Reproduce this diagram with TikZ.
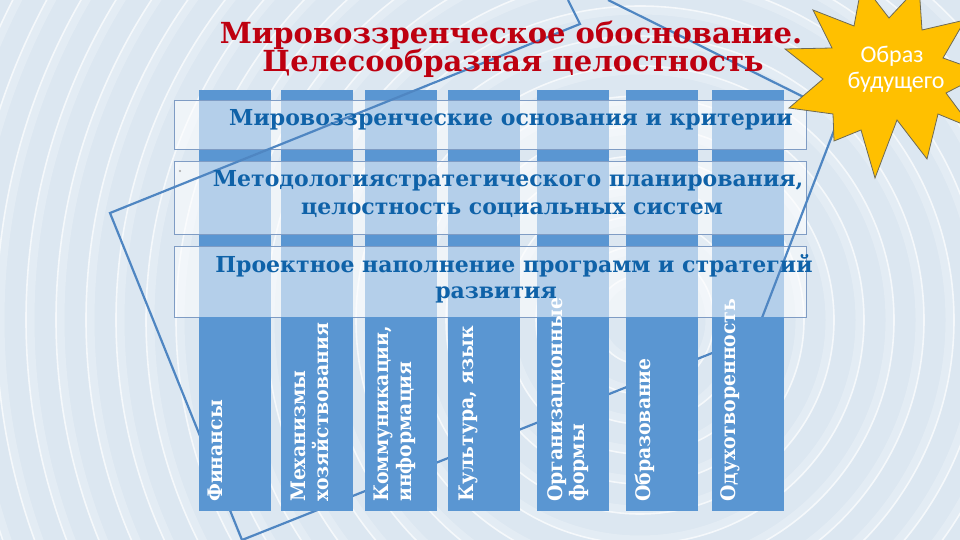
\documentclass[tikz,border=0pt]{standalone}
\usepackage{fontspec}
\setmainfont{DejaVu Serif}
\newfontfamily\colfont{DejaVu Serif}[FakeStretch=0.94]
\newfontfamily\starfont{Carlito}
\definecolor{bgc}{HTML}{DCE7F1}
\definecolor{colblue}{HTML}{5A96D2}
\definecolor{bandline}{HTML}{7F9CC4}
\definecolor{bandtxt}{HTML}{0F62A8}
\definecolor{titlered}{HTML}{BE0010}
\definecolor{lineblue}{HTML}{4F86C2}
\definecolor{starfill}{HTML}{FFC000}
\definecolor{starline}{HTML}{6E6A55}
\begin{document}
\begin{tikzpicture}[x=1pt,y=-1pt,
  colbox/.style={fill=colblue, draw=none, minimum width=72pt, inner sep=0pt, anchor=north west},
  bandbox/.style={fill=white, fill opacity=0.55, draw=bandline, line width=0.8pt, inner sep=0pt, anchor=north west, minimum width=632pt},
  bandtext/.style={text=bandtxt, font=\fontsize{22}{22}\selectfont\bfseries, inner sep=0pt, anchor=base},
  coltext/.style={text=white, font=\colfont\fontsize{20}{20}\selectfont\bfseries, rotate=90, inner sep=0pt, anchor=base west},
  titletext/.style={text=titlered, font=\fontsize{29}{29}\selectfont\bfseries, inner sep=0pt, anchor=base},
  frameline/.style={draw=lineblue, line width=2.2pt, line join=miter},
  ringsoft/.style={draw=white, line width=9pt, opacity=0.22},
  ringthin/.style={draw=white, line width=1.6pt, opacity=0.65},
  startext/.style={text=white, font=\starfont\fontsize{24}{24}\selectfont, inner sep=0pt, anchor=base},
  starshape/.style={fill=starfill, draw=starline, line width=0.8pt, line join=miter}
]
\useasboundingbox (0,0) rectangle (960,540);
\fill[bgc] (0,0) rectangle (960,540);
\begin{scope}
  \clip (0,0) rectangle (960,540);
  \foreach \r in {40,70,...,820} {
    \draw[ringsoft] (640,320) circle (\r);
    \draw[ringthin] (640,320) circle (\r+4);
  }
\end{scope}

% columns (full height)
\foreach \n/\x in {1/199,2/281,3/365,4/448,5/537,6/626,7/712} {
  \node[colbox, minimum height=421pt] (c\n) at (\x,90) {};
}

% bands
\node[bandbox, minimum height=49pt] (b1) at (174,100) {};
\node[bandbox, minimum height=73pt] (b2) at (174,161) {};
\node[bandbox, minimum height=71pt] (b3) at (174,246) {};
\fill[gray!70] (180,171) circle (1.2);

% decorative frame lines
\draw[frameline] (568,0) -- (580,24) -- (110,213) -- (242,540) -- (755,336) -- (840,115) -- (608,0);

% lower column parts on top of the lines
\foreach \n/\x in {1/199,2/281,3/365,4/448,5/537,6/626,7/712} {
  \node[colbox, minimum height=194pt] (l\n) at (\x,317) {};
}

% column texts
\node[coltext] (t1) at (222,502) {Финансы};
\node[coltext] (t2a) at (305,502) {Механизмы};
\node[coltext] (t2b) at (328,502) {хозяйствования};
\node[coltext] (t3a) at (388,502) {Коммуникации,};
\node[coltext] (t3b) at (411,502) {информация};
\node[coltext] (t4) at (473,502) {Культура, язык};
\node[coltext] (t5a) at (562,502) {Организационные};
\node[coltext] (t5b) at (584,502) {формы};
\node[coltext] (t6) at (650,502) {Образование};
\node[coltext] (t7) at (735,502) {Одухотворенность};

% band texts
\node[bandtext] (bt1) at (511,126) {Мировоззренческие основания и критерии};
\node[bandtext] (bt2a) at (508,186) {Методологиястратегического планирования,};
\node[bandtext] (bt2b) at (512,214) {целостность социальных систем};
\node[bandtext] (bt3a) at (514,272) {Проектное наполнение программ и стратегий};
\node[bandtext] (bt3b) at (496,298) {развития};

% starburst
\begin{scope}
  \clip (0,0) rectangle (960,540);
  \fill[starshape] (785,49) -- (823,79) -- (789,108) -- (833,114) -- (834,141) -- (861,130)
    -- (875,178) -- (897,120) -- (927,159) -- (938,114) -- (972,128) -- (946,93)
    -- (985,73) -- (943,58) -- (965,20) -- (922,30) -- (919,-14) -- (889,18)
    -- (862,-17) -- (854,26) -- (813,10) -- (832,48) -- cycle;
\end{scope}
\node[startext] (s1) at (892,63) {Образ};
\node[startext] (s2) at (896,89) {будущего};

% title
\node[titletext] (ti1) at (511,44) {Мировоззренческое обоснование.};
\node[titletext] (ti2) at (513,72) {Целесообразная целостность};
\end{tikzpicture}
\end{document}
